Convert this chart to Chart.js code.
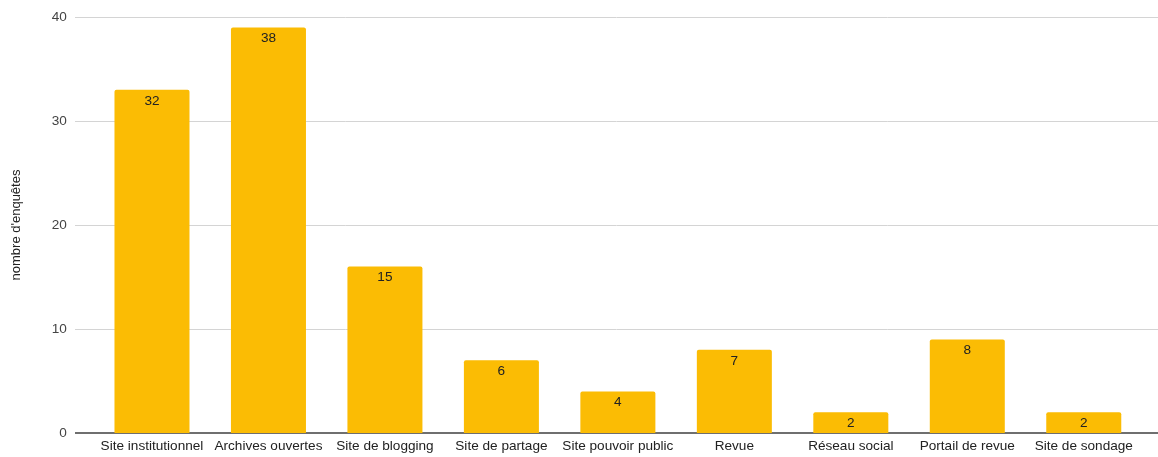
<!DOCTYPE html>
<html>
<head>
<meta charset="utf-8">
<script src="https://cdn.jsdelivr.net/npm/chart.js@4"></script>
<style>
  html, body { margin: 0; padding: 0; background: #fff; }
  #wrap { width: 1158px; height: 457px; position: relative; }
</style>
</head>
<body>
<div id="wrap"><canvas id="c"></canvas></div>
<script>
const categories = ["Site institutionnel", "Archives ouvertes", "Site de blogging", "Site de partage", "Site pouvoir public", "Revue", "Réseau social", "Portail de revue", "Site de sondage"];
const barValues = [33, 39, 16, 7, 4, 8, 2, 9, 2];
const barLabels = [32, 38, 15, 6, 4, 7, 2, 8, 2];
const yTicks = [0, 10, 20, 30, 40];
const yTitle = "nombre d'enquêtes";

const FONT = "'Liberation Sans', Arial, sans-serif";

const gridPlugin = {
  id: 'gridFull',
  beforeDatasetsDraw(chart) {
    const ctx = chart.ctx, y = chart.scales.y;
    ctx.save();
    yTicks.forEach(v => {
      const py = Math.round(y.getPixelForValue(v)) + (v === 0 ? 0 : 0.5);
      ctx.beginPath();
      ctx.strokeStyle = v === 0 ? '#6f6f6f' : '#d4d4d4';
      ctx.lineWidth = v === 0 ? 2 : 1;
      ctx.moveTo(75, py);
      ctx.lineTo(chart.width, py);
      ctx.stroke();
    });
    ctx.restore();
  }
};

const labelPlugin = {
  id: 'barLabels',
  afterDatasetsDraw(chart) {
    const ctx = chart.ctx;
    const meta = chart.getDatasetMeta(0);
    ctx.save();
    ctx.font = "13.6px " + FONT;
    ctx.fillStyle = '#222';
    ctx.textAlign = 'center';
    ctx.textBaseline = 'middle';
    meta.data.forEach((bar, i) => {
      ctx.fillText(String(barLabels[i]), bar.x, bar.y + 11);
    });
    ctx.restore();
  }
};

new Chart(document.getElementById('c'), {
  type: 'bar',
  data: {
    labels: categories,
    datasets: [{
      data: barValues,
      backgroundColor: '#fbbc04',
      borderRadius: 2,
      borderSkipped: 'bottom',
      categoryPercentage: 1,
      barPercentage: 0.644
    }]
  },
  options: {
    responsive: true,
    maintainAspectRatio: false,
    animation: false,
    layout: { padding: { left: 0, right: 16, top: 17, bottom: 0 } },
    plugins: { legend: { display: false }, tooltip: { enabled: false } },
    scales: {
      x: {
        grid: { display: false, drawTicks: false },
        border: { display: false },
        ticks: { font: { size: 13.6, family: FONT }, color: '#222', padding: 5, maxRotation: 0, autoSkip: false },
        afterFit(s) { s.height = 24; s.paddingLeft = 0; s.paddingRight = 0; }
      },
      y: {
        min: 0, max: 40,
        afterBuildTicks(s) { s.ticks = yTicks.map(v => ({ value: v })); },
        grid: { display: false, drawTicks: false },
        border: { display: false },
        ticks: { font: { size: 13.6, family: FONT }, color: '#444', padding: 27 },
        title: { display: true, text: yTitle, font: { size: 13, family: FONT }, color: '#222', padding: { top: 9, bottom: 0 } },
        afterFit(s) { s.width = 93.75; s.paddingTop = 0; s.paddingBottom = 0; }
      }
    }
  },
  plugins: [gridPlugin, labelPlugin]
});
</script>
</body>
</html>
